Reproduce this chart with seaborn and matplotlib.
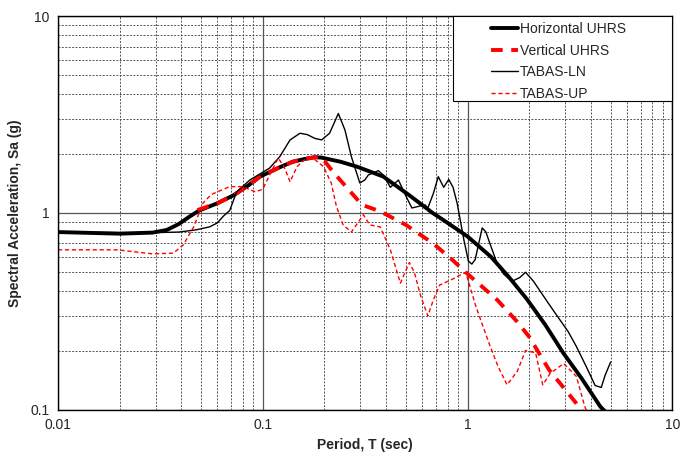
import numpy as np
import matplotlib
matplotlib.use("Agg")
import matplotlib.pyplot as plt
from matplotlib.patches import Rectangle
from matplotlib.ticker import LogLocator, FixedLocator, FixedFormatter, NullFormatter
import seaborn as sns

# Horizontal UHRS
h_period = [0.01, 0.02, 0.029, 0.034, 0.039, 0.044, 0.049, 0.06, 0.072, 0.085,
            0.097, 0.12, 0.14, 0.16, 0.18, 0.194, 0.24, 0.288, 0.388, 0.52,
            0.676, 0.8, 1.0, 1.3, 1.6, 1.95, 2.4, 2.94, 3.6, 4.45, 4.75]
h_sa = [0.80, 0.785, 0.795, 0.82, 0.88, 0.96, 1.03, 1.12, 1.23, 1.38,
        1.53, 1.70, 1.82, 1.88, 1.92, 1.91, 1.82, 1.72, 1.53, 1.23,
        1.0, 0.89, 0.76, 0.60, 0.47, 0.365, 0.27, 0.194, 0.145, 0.104, 0.097]

# Vertical UHRS
v_period = [0.048, 0.06, 0.072, 0.085, 0.097, 0.12, 0.14, 0.16, 0.18, 0.194,
            0.22, 0.26, 0.305, 0.374, 0.50, 0.68, 0.84, 0.98, 1.40, 1.75,
            2.0, 2.5, 3.5, 3.7]
v_sa = [1.035, 1.12, 1.23, 1.38, 1.53, 1.70, 1.82, 1.88, 1.92, 1.92,
        1.62, 1.33, 1.10, 1.02, 0.87, 0.70, 0.58, 0.50, 0.361, 0.28,
        0.235, 0.16, 0.104, 0.096]

# TABAS-LN record
ln_period = [0.01, 0.02, 0.03, 0.039, 0.047, 0.055, 0.06, 0.064, 0.069, 0.0745,
             0.0865, 0.108, 0.121, 0.136, 0.152, 0.165, 0.18, 0.194, 0.212, 0.234,
             0.252, 0.271, 0.298, 0.315, 0.328, 0.367, 0.39, 0.42, 0.46, 0.50,
             0.535, 0.62, 0.64, 0.68, 0.72, 0.765, 0.81, 0.85, 0.89, 0.96,
             1.01, 1.05, 1.09, 1.18, 1.23, 1.28, 1.39, 1.5, 1.65, 1.8,
             1.92, 2.1, 2.45, 2.74, 3.1, 3.4, 3.8, 4.2, 4.5, 4.7, 5.0]
ln_sa = [0.80, 0.795, 0.795, 0.80, 0.82, 0.85, 0.89, 0.96, 1.03, 1.28,
         1.47, 1.69, 1.93, 2.35, 2.54, 2.50, 2.39, 2.35, 2.54, 3.20,
         2.64, 1.93, 1.42, 1.47, 1.56, 1.64, 1.55, 1.35, 1.47, 1.22,
         1.06, 1.10, 1.06, 1.25, 1.53, 1.35, 1.48, 1.35, 1.12, 0.73,
         0.57, 0.55, 0.58, 0.84, 0.80, 0.71, 0.56, 0.49, 0.45, 0.47,
         0.50, 0.45, 0.355, 0.30, 0.25, 0.21, 0.166, 0.133, 0.13, 0.15, 0.175]

# TABAS-UP record
up_period = [0.01, 0.0194, 0.029, 0.0366, 0.041, 0.046, 0.051, 0.056, 0.06, 0.069,
             0.08, 0.092, 0.1, 0.11, 0.119, 0.127, 0.136, 0.147, 0.16, 0.176,
             0.198, 0.216, 0.229, 0.247, 0.271, 0.291, 0.31, 0.333, 0.374, 0.40,
             0.42, 0.47, 0.52, 0.55, 0.59, 0.64, 0.68, 0.73, 0.84, 0.98,
             1.10, 1.28, 1.41, 1.56, 1.75, 1.92, 2.15, 2.33, 2.53, 2.95,
             3.4, 3.7, 3.85]
up_sa = [0.65, 0.65, 0.62, 0.625, 0.69, 0.85, 1.12, 1.24, 1.28, 1.36,
         1.36, 1.28, 1.32, 1.62, 1.90, 1.72, 1.44, 1.72, 1.86, 1.90,
         1.72, 1.42, 1.08, 0.87, 0.80, 0.89, 0.98, 0.87, 0.85, 0.73,
         0.65, 0.44, 0.56, 0.50, 0.38, 0.30, 0.36, 0.43, 0.46, 0.50,
         0.334, 0.215, 0.166, 0.134, 0.157, 0.20, 0.195, 0.134, 0.153, 0.172,
         0.148, 0.108, 0.095]

sns.set_style("white")
plt.rcParams["font.family"] = ["Liberation Sans", "DejaVu Sans"]

fig = plt.figure(figsize=(6.86, 4.59), dpi=100)
ax = fig.add_axes([0.0845, 0.107, 0.8955, 0.858])

sns.lineplot(x=h_period, y=h_sa, ax=ax, color="black", linewidth=2.8,
             sort=False, estimator=None, label="Horizontal UHRS")
sns.lineplot(x=v_period, y=v_sa, ax=ax, color="#ff0000", linewidth=2.8,
             sort=False, estimator=None, label="Vertical UHRS",
             dashes=False, linestyle=(0, (3, 2.2)))
sns.lineplot(x=ln_period, y=ln_sa, ax=ax, color="black", linewidth=1.0,
             sort=False, estimator=None, label="TABAS-LN")
sns.lineplot(x=up_period, y=up_sa, ax=ax, color="#ff0000", linewidth=1.0,
             sort=False, estimator=None, label="TABAS-UP",
             dashes=False, linestyle=(0, (3, 2)))

ax.set_xscale("log")
ax.set_yscale("log")
ax.set_xlim(0.01, 10)
ax.set_ylim(0.1, 10)

ax.xaxis.set_major_locator(FixedLocator([0.01, 0.1, 1, 10]))
ax.xaxis.set_major_formatter(FixedFormatter(["0.01", "0.1", "1", "10"]))
ax.yaxis.set_major_locator(FixedLocator([0.1, 1, 10]))
ax.yaxis.set_major_formatter(FixedFormatter(["0.1", "1", "10"]))
ax.xaxis.set_minor_locator(LogLocator(base=10, subs=np.arange(2, 10)))
ax.yaxis.set_minor_locator(LogLocator(base=10, subs=np.arange(2, 10)))
ax.xaxis.set_minor_formatter(NullFormatter())
ax.yaxis.set_minor_formatter(NullFormatter())

ax.grid(True, which="major", color="#555555", linewidth=0.9, linestyle="-")
ax.grid(True, which="minor", color="#555555", linewidth=0.7, linestyle=(0, (2, 1.5)))
ax.set_axisbelow(True)
ax.tick_params(which="both", length=0, labelsize=10, pad=6)

for s in ax.spines.values():
    s.set_color("black")
    s.set_linewidth(1.0)

ax.set_xlabel("Period, T (sec)", fontsize=10, fontweight="bold", labelpad=4)
ax.set_ylabel("Spectral Acceleration, Sa (g)", fontsize=10, fontweight="bold", labelpad=6)

# legend box is wider than its content, so draw the frame separately
ax.add_patch(Rectangle((0.6433, 0.784), 0.3567, 0.216, transform=ax.transAxes,
                       facecolor="white", edgecolor="black", linewidth=0.8,
                       zorder=4.5, clip_on=False))
leg = ax.legend(loc="upper left", bbox_to_anchor=(0.705, 0.985), fontsize=10,
                frameon=False, borderaxespad=0, borderpad=0, handlelength=1.95,
                handletextpad=0.15, labelspacing=0.55)
leg.set_zorder(5)

fig.savefig("out.png", dpi=100)
